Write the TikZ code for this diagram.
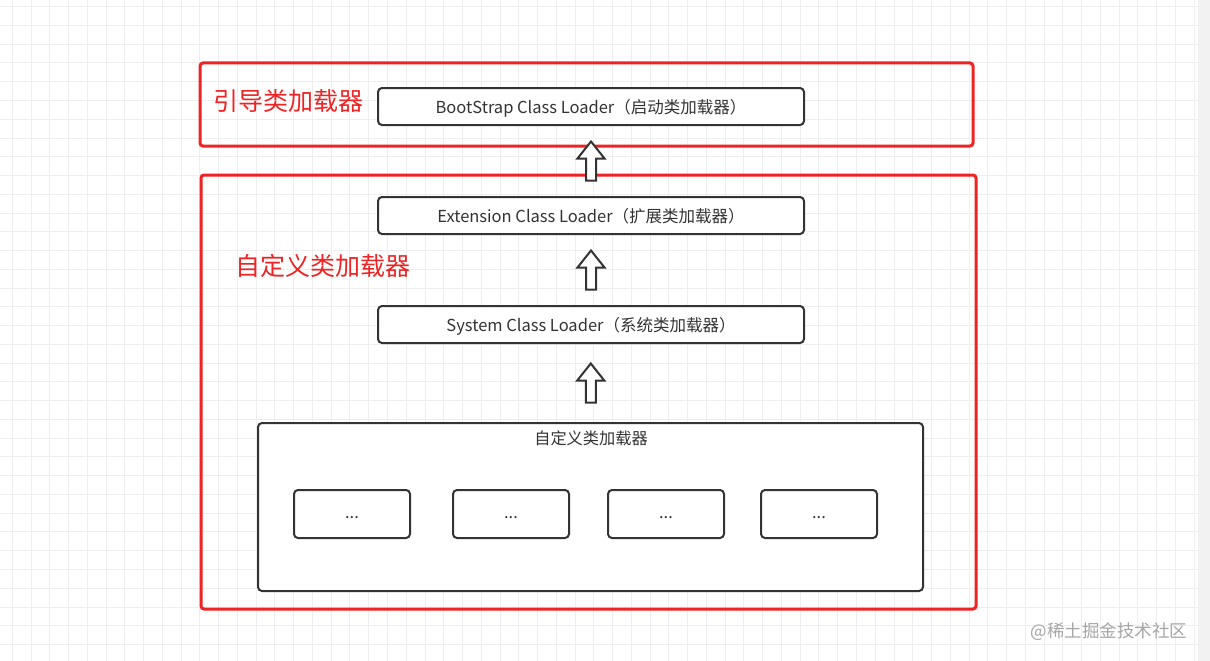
\documentclass[tikz,border=0pt]{standalone}
\usepackage{fontspec}
\setmainfont{Noto Sans CJK SC}
\usetikzlibrary{calc}

\definecolor{framered}{HTML}{EE2424}
\definecolor{boxline}{HTML}{333333}
\definecolor{gridline}{HTML}{EEEEEE}
\definecolor{marktext}{HTML}{A6A6A6}

\tikzset{
  loaderbox/.style={
    draw=boxline, line width=2pt, rounded corners=4pt, fill=white,
    inner sep=0pt, text=boxline, font=\fontsize{16.5}{18}\selectfont
  },
  redframe/.style={draw=framered, line width=3pt, rounded corners=3pt},
  redlabel/.style={text=framered, font=\fontsize{25}{28}\selectfont},
  hollow/.style={draw=boxline, line width=2pt, fill=white, line join=miter}
}
% 文字基线下移
\newcommand\lowered[2]{\raisebox{-#1}[0pt][0pt]{#2}}

\begin{document}
\begin{tikzpicture}[
  x=1pt,
  y=-1pt
]
  \useasboundingbox (0,0) rectangle (1210,661);
  \def\gx{18.76}

  % 背景网格
  \fill[white] (0,0) rectangle (1210,661);
  \fill[gray!10] (1198,0) rectangle (1210,661);
  \foreach \i in {0,...,63}
    \draw[gridline, line width=1pt] ({12.3+\gx*\i},0) -- ++(0,661);
  \foreach \j in {0,...,35}
    \draw[gridline, line width=1pt] (0,{6.7+\gx*\j}) -- ++(1198,0);

  % 红色外框
  \draw[redframe] (200,63) rectangle (973,146);
  \draw[redframe] (201,175) rectangle (976,609);

  % 红色标题
  \node[redlabel] (bootlabel) at (288,101) {引导类加载器};
  \node[redlabel] (customlabel) at (323,266) {自定义类加载器};

  % 三个类加载器
  \node[loaderbox, minimum width=426pt, minimum height=37pt]
    (boot) at (591,106.5) {\lowered{7pt}{BootStrap Class Loader（启动类加载器）}};
  \node[loaderbox, minimum width=426pt, minimum height=37pt]
    (ext) at (591,215.5) {\lowered{7pt}{Extension Class Loader（扩展类加载器）}};
  \node[loaderbox, minimum width=426pt, minimum height=37pt]
    (sys) at (591,324.5) {\lowered{7pt}{System Class Loader（系统类加载器）}};

  % 自定义类加载器大框
  \node[loaderbox, minimum width=665pt, minimum height=168pt]
    (custom) at (590.5,507) {};
  \node[text=boxline, font=\fontsize{16.2}{18}\selectfont]
    (customtitle) at (591,438) {自定义类加载器};

  % 内部的小框
  \foreach \x [count=\k] in {352,511,666,819}
    \node[loaderbox, minimum width=116pt, minimum height=48pt]
      (item\k) at (\x,514) {\lowered{4pt}{...}};

  % 空心箭头
  \foreach \lo/\hi in {ext/boot, sys/ext, custom/sys} {
    \coordinate (mid) at ($(\lo.north)!0.5!(\hi.south)$);
    \draw[hollow]
      ($(mid)+(-5,19.5)$) -- ($(mid)+(-5,-2.5)$)
      -- ($(mid)+(-13.5,-2.5)$) -- ($(mid)+(0,-19.5)$)
      -- ($(mid)+(13.5,-2.5)$) -- ($(mid)+(5,-2.5)$)
      -- ($(mid)+(5,19.5)$) -- cycle;
  }

  % 水印
  \node[anchor=east, text=marktext, font=\fontsize{17.5}{20}\selectfont]
    (mark) at (1191,632) {@稀土掘金技术社区};
\end{tikzpicture}
\end{document}
